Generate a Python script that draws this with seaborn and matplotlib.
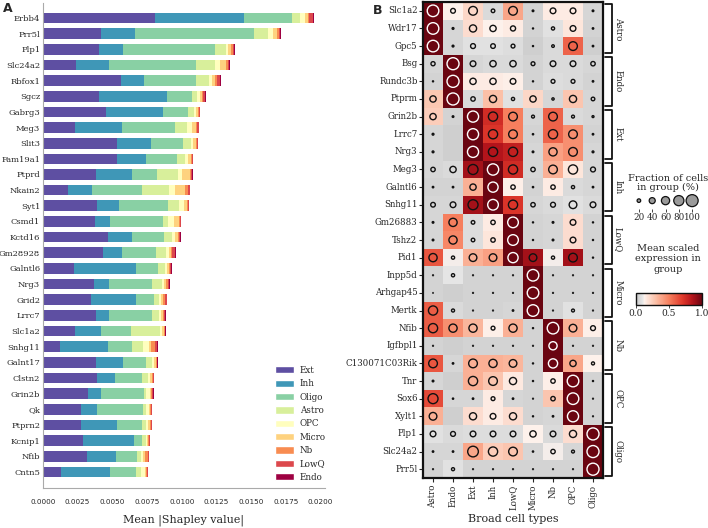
import numpy as np
import pandas as pd
import seaborn as sns
import matplotlib.pyplot as plt
import matplotlib.transforms as mtransforms
from matplotlib.colors import LinearSegmentedColormap
from matplotlib.patches import Patch

sns.set_style("white")
plt.rcParams['font.family'] = ['DejaVu Serif']

# ----------------------------Panel A data--------------------
genes_a = ['Erbb4', 'Prr5l', 'Plp1', 'Slc24a2', 'Rbfox1', 'Sgcz', 'Gabrg3', 'Meg3',
           'Slit3', 'Fam19a1', 'Ptprd', 'Nkain2', 'Syt1', 'Csmd1', 'Kctd16', 'Gm28928',
           'Galntl6', 'Nrg3', 'Grid2', 'Lrrc7', 'Slc1a2', 'Snhg11', 'Galnt17', 'Clstn2',
           'Grin2b', 'Qk', 'Ptprn2', 'Kcnip1', 'Nfib', 'Cntn5']
types_a = ['Ext', 'Inh', 'Oligo', 'Astro', 'OPC', 'Micro', 'Nb', 'LowQ', 'Endo']

ext = [0.00807, 0.00418, 0.00404, 0.00238, 0.00560, 0.00404, 0.00451, 0.00234, 0.00536, 0.00531,
       0.00382, 0.00177, 0.00390, 0.00375, 0.00467, 0.00432, 0.00227, 0.00368, 0.00347, 0.00380,
       0.00231, 0.00120, 0.00380, 0.00390, 0.00323, 0.00276, 0.00274, 0.00288, 0.00319, 0.00127]
inh = [0.00642, 0.00248, 0.00175, 0.00236, 0.00168, 0.00489, 0.00413, 0.00338, 0.00243, 0.00212,
       0.00262, 0.00177, 0.00156, 0.00106, 0.00177, 0.00137, 0.00444, 0.00106, 0.00326, 0.00094,
       0.00186, 0.00347, 0.00194, 0.00127, 0.00094, 0.00111, 0.00257, 0.00368, 0.00210, 0.00354]
oligo = [0.00342, 0.00855, 0.00661, 0.00630, 0.00378, 0.00182, 0.00179, 0.00382, 0.00227, 0.00224,
         0.00175, 0.00356, 0.00356, 0.00382, 0.00231, 0.00246, 0.00161, 0.00312, 0.00127, 0.00312,
         0.00220, 0.00172, 0.00170, 0.00198, 0.00309, 0.00335, 0.00179, 0.00059, 0.00151, 0.00191]
astro = [0.00064, 0.00099, 0.00076, 0.00135, 0.00087, 0.00038, 0.00045, 0.00085, 0.00057, 0.00059,
         0.00151, 0.00196, 0.00076, 0.00038, 0.00052, 0.00073, 0.00047, 0.00071, 0.00033, 0.00050,
         0.00208, 0.00078, 0.00038, 0.00042, 0.00019, 0.00021, 0.00033, 0.00026, 0.00026, 0.00033]
opc = [0.00035, 0.00035, 0.00019, 0.00038, 0.00024, 0.00019, 0.00017, 0.00031, 0.00017, 0.00019,
       0.00028, 0.00045, 0.00035, 0.00040, 0.00024, 0.00021, 0.00014, 0.00014, 0.00017, 0.00012,
       0.00012, 0.00045, 0.00017, 0.00017, 0.00024, 0.00019, 0.00014, 0.00012, 0.00017, 0.00028]
micro = [0.00019, 0.00028, 0.00021, 0.00038, 0.00024, 0.00012, 0.00010, 0.00031, 0.00019, 0.00019,
         0.00064, 0.00073, 0.00021, 0.00038, 0.00019, 0.00010, 0.00012, 0.00014, 0.00012, 0.00017,
         0.00012, 0.00019, 0.00012, 0.00014, 0.00012, 0.00010, 0.00012, 0.00007, 0.00014, 0.00010]
nb = [0.00010, 0.00014, 0.00010, 0.00017, 0.00012, 0.00007, 0.00007, 0.00010, 0.00010, 0.00010,
      0.00007, 0.00021, 0.00012, 0.00007, 0.00012, 0.00014, 0.00010, 0.00014, 0.00014, 0.00010,
      0.00007, 0.00028, 0.00007, 0.00007, 0.00007, 0.00007, 0.00007, 0.00005, 0.00017, 0.00005]
lowq = [0.00024, 0.00014, 0.00012, 0.00010, 0.00019, 0.00017, 0.00010, 0.00010, 0.00005, 0.00007,
        0.00007, 0.00014, 0.00007, 0.00007, 0.00007, 0.00021, 0.00010, 0.00012, 0.00017, 0.00007,
        0.00005, 0.00014, 0.00007, 0.00002, 0.00007, 0.00005, 0.00007, 0.00007, 0.00010, 0.00010]
endo = [0.00007, 0.00005, 0.00003, 0.00002, 0.00007, 0.00003, 0.00002, 0.00002, 0.00002, 0.00002,
        0.00002, 0.00002, 0.00002, 0.00002, 0.00002, 0.00002, 0.00002, 0.00002, 0.00002, 0.00002,
        0.00002, 0.00005, 0.00002, 0.00002, 0.00002, 0.00002, 0.00002, 0.00002, 0.00002, 0.00002]

# ----------------------------Panel B data--------------------
genes_b = ['Slc1a2', 'Wdr17', 'Gpc5', 'Bsg', 'Rundc3b', 'Ptprm', 'Grin2b', 'Lrrc7', 'Nrg3',
           'Meg3', 'Galntl6', 'Snhg11', 'Gm26883', 'Tshz2', 'Pid1', 'Inpp5d', 'Arhgap45',
           'Mertk', 'Nfib', 'Igfbpl1', 'C130071C03Rik', 'Tnr', 'Sox6', 'Xylt1', 'Plp1',
           'Slc24a2', 'Prr5l']
types_b = ['Astro', 'Endo', 'Ext', 'Inh', 'LowQ', 'Micro', 'Nb', 'OPC', 'Oligo']
groups_b = ['Astro', 'Endo', 'Ext', 'Inh', 'LowQ', 'Micro', 'Nb', 'OPC', 'Oligo']

# mean scaled expression (rows = genes_b, cols = types_b)
expr = [
    [1.00, 0.13, 0.22, 0.06, 0.38, 0.04, 0.15, 0.15, 0.05],
    [1.00, 0.05, 0.20, 0.13, 0.15, 0.04, 0.08, 0.17, 0.04],
    [1.00, 0.05, 0.08, 0.08, 0.07, 0.03, 0.06, 0.58, 0.03],
    [0.05, 1.00, 0.05, 0.06, 0.06, 0.04, 0.06, 0.06, 0.05],
    [0.04, 1.00, 0.15, 0.15, 0.14, 0.04, 0.07, 0.06, 0.04],
    [0.27, 1.00, 0.06, 0.30, 0.08, 0.22, 0.05, 0.28, 0.05],
    [0.25, 0.04, 1.00, 0.75, 0.50, 0.05, 0.58, 0.06, 0.05],
    [0.05, 0.03, 1.00, 0.72, 0.50, 0.04, 0.58, 0.45, 0.04],
    [0.05, 0.03, 1.00, 0.85, 0.80, 0.05, 0.40, 0.45, 0.05],
    [0.05, 0.06, 0.88, 1.00, 0.75, 0.05, 0.35, 0.17, 0.05],
    [0.04, 0.04, 0.35, 1.00, 0.14, 0.04, 0.15, 0.06, 0.05],
    [0.05, 0.05, 0.88, 1.00, 0.72, 0.05, 0.06, 0.08, 0.06],
    [0.05, 0.50, 0.07, 0.15, 1.00, 0.04, 0.05, 0.20, 0.04],
    [0.05, 0.48, 0.07, 0.17, 1.00, 0.04, 0.05, 0.20, 0.04],
    [0.62, 0.12, 0.35, 0.40, 1.00, 0.88, 0.12, 0.88, 0.04],
    [0.04, 0.09, 0.04, 0.04, 0.04, 1.00, 0.04, 0.04, 0.04],
    [0.04, 0.03, 0.04, 0.04, 0.04, 1.00, 0.04, 0.04, 0.04],
    [0.60, 0.06, 0.04, 0.04, 0.05, 1.00, 0.04, 0.08, 0.04],
    [0.60, 0.45, 0.33, 0.14, 0.35, 0.04, 1.00, 0.35, 0.14],
    [0.04, 0.03, 0.04, 0.04, 0.04, 0.04, 1.00, 0.04, 0.04],
    [0.62, 0.05, 0.35, 0.35, 0.33, 0.04, 1.00, 0.38, 0.13],
    [0.05, 0.03, 0.35, 0.28, 0.16, 0.04, 0.14, 1.00, 0.04],
    [0.65, 0.05, 0.05, 0.15, 0.05, 0.04, 0.28, 1.00, 0.04],
    [0.35, 0.03, 0.20, 0.15, 0.20, 0.04, 0.05, 1.00, 0.04],
    [0.08, 0.06, 0.07, 0.07, 0.07, 0.13, 0.06, 0.20, 1.00],
    [0.05, 0.05, 0.38, 0.25, 0.28, 0.05, 0.12, 0.05, 1.00],
    [0.04, 0.08, 0.04, 0.04, 0.04, 0.04, 0.04, 0.04, 1.00],
]
# fraction of cells in group (%)
frac = [
    [95, 29, 65, 20, 65, 7, 37, 37, 7],
    [95, 8, 50, 42, 32, 4, 17, 37, 6],
    [95, 8, 30, 28, 22, 4, 13, 65, 6],
    [24, 100, 37, 42, 42, 22, 37, 37, 26],
    [4, 100, 42, 42, 37, 4, 22, 22, 6],
    [42, 100, 26, 50, 17, 42, 11, 50, 20],
    [42, 7, 90, 70, 65, 15, 65, 15, 9],
    [8, 0, 90, 70, 65, 5, 70, 65, 6],
    [8, 0, 90, 70, 70, 7, 60, 65, 8],
    [26, 42, 78, 92, 70, 26, 65, 70, 30],
    [6, 6, 42, 80, 26, 5, 26, 17, 6],
    [28, 37, 78, 85, 70, 26, 30, 55, 37],
    [7, 60, 20, 26, 85, 4, 7, 37, 4],
    [7, 60, 20, 26, 85, 4, 7, 37, 4],
    [60, 17, 55, 55, 80, 55, 17, 65, 4],
    [3, 17, 3, 3, 3, 95, 3, 3, 3],
    [2, 0, 3, 3, 3, 95, 3, 3, 3],
    [70, 16, 3, 3, 6, 95, 3, 15, 3],
    [70, 60, 60, 22, 60, 4, 95, 55, 30],
    [3, 0, 3, 3, 3, 3, 60, 3, 3],
    [65, 6, 65, 60, 55, 4, 70, 42, 16],
    [7, 0, 70, 65, 50, 4, 26, 95, 4],
    [78, 5, 6, 22, 6, 3, 26, 95, 3],
    [55, 0, 50, 37, 50, 4, 6, 90, 3],
    [37, 30, 37, 37, 37, 42, 37, 50, 100],
    [6, 6, 85, 70, 65, 5, 26, 15, 100],
    [3, 16, 3, 3, 3, 3, 3, 3, 100],
]
size_ticks = [20, 40, 60, 80, 100]

# ----------------------------Figure--------------------
fig = plt.figure(figsize=(7.08, 5.28), dpi=100)

# ------------------Panel A: stacked bars---------------------
axa = fig.add_axes([0.0607, 0.0758, 0.398, 0.9186])
df_a = pd.DataFrame({'Ext': ext, 'Inh': inh, 'Oligo': oligo, 'Astro': astro, 'OPC': opc,
                     'Micro': micro, 'Nb': nb, 'LowQ': lowq, 'Endo': endo}, index=genes_a)
colors_a = plt.get_cmap('Spectral_r')(np.linspace(0, 1, len(types_a)))
ypos = np.arange(len(genes_a))
left = np.zeros(len(genes_a))
for t, c in zip(types_a, colors_a):
    axa.barh(ypos, df_a[t], left=left, height=0.68, color=c, edgecolor='none')
    left += df_a[t].values
axa.set_ylim(30.03, -0.96)
axa.set_xlim(0, 0.0203)
axa.set_yticks(ypos)
axa.set_yticklabels(genes_a, fontsize=6.0)
xt = np.arange(0, 0.0201, 0.0025)
axa.set_xticks(xt)
axa.set_xticklabels(['%.4f' % v for v in xt], fontsize=5.2, family='DejaVu Sans')
axa.tick_params(axis='y', length=0, pad=2)
axa.tick_params(axis='x', length=0, pad=8)
axa.set_xlabel('Mean |Shapley value|', fontsize=8, labelpad=7)
sns.despine(ax=axa, top=True, right=True)
for s in ['left', 'bottom']:
    axa.spines[s].set_color('#aaaaaa')
    axa.spines[s].set_linewidth(0.8)
handles = [Patch(facecolor=c, label=t) for t, c in zip(types_a, colors_a)]
axa.legend(handles=handles, loc='lower right', bbox_to_anchor=(1.025, 0.0), frameon=False,
           fontsize=6.3, handlelength=2.2, handleheight=0.9, labelspacing=0.5,
           handletextpad=0.6, borderaxespad=0.3)

# ------------------Panel B: dotplot---------------------
cmap = LinearSegmentedColormap.from_list('greyreds', [
    (0.0, '#c6c6c6'), (0.1, '#e8e8e8'), (0.13, '#fdf1eb'), (0.3, '#fbbfa6'),
    (0.5, '#f6805f'), (0.7, '#e0392b'), (0.85, '#b3141b'), (1.0, '#6a0511')])

axb = fig.add_axes([0.5975, 0.0947, 0.2542, 0.9015])
expr_df = pd.DataFrame(expr, index=genes_b, columns=types_b)
frac_df = pd.DataFrame(frac, index=genes_b, columns=types_b)
sns.heatmap(expr_df, cmap=cmap, vmin=0, vmax=1, cbar=False, ax=axb, linewidths=0)

smax = 75
long_df = expr_df.stack().reset_index()
long_df.columns = ['gene', 'ctype', 'expr']
long_df['frac'] = frac_df.stack().values
long_df['x'] = long_df['ctype'].map({t: i + 0.5 for i, t in enumerate(types_b)})
long_df['y'] = long_df['gene'].map({g: i + 0.5 for i, g in enumerate(genes_b)})
long_df = long_df[long_df['frac'] > 0]
sizes = (long_df['frac'] / 100.0) ** 1.5 * smax
edge = np.where(long_df['expr'] >= 0.95, 'white', '#111111')
axb.scatter(long_df['x'], long_df['y'], s=sizes, facecolors='none', edgecolors=edge,
            linewidths=1.0, zorder=3)

axb.set_xticks(np.arange(len(types_b)) + 0.5)
axb.set_xticklabels(types_b, rotation=90, fontsize=6.2)
axb.set_yticks(np.arange(len(genes_b)) + 0.5)
axb.set_yticklabels(genes_b, rotation=0, fontsize=6.2)
axb.tick_params(axis='y', length=3, width=0.8, pad=1, left=True)
axb.tick_params(axis='x', length=3, width=0.8, pad=2, bottom=True)
axb.set_xlabel('Broad cell types', fontsize=8, labelpad=3)
axb.set_ylabel('')
for s in axb.spines.values():
    s.set_visible(True)
    s.set_color('#111111')
    s.set_linewidth(1.6)

# group brackets
trans = mtransforms.blended_transform_factory(axb.transAxes, axb.transData)
for k, grp in enumerate(groups_b):
    y0 = 3 * k + 0.12
    y1 = 3 * k + 3 - 0.12
    axb.plot([1.012, 1.05, 1.05, 1.012], [y0, y0, y1, y1], transform=trans,
             color='#111111', lw=1.3, clip_on=False)
    axb.text(1.085, 3 * k + 1.5, grp, rotation=270, va='center', ha='center',
             transform=trans, fontsize=6.2)

# size legend
fig.text(0.944, 0.653, 'Fraction of cells\nin group (%)', ha='center', va='center',
         fontsize=7, linespacing=0.95)
axs = fig.add_axes([0.893, 0.605, 0.094, 0.03])
axs.scatter(np.arange(len(size_ticks)), np.zeros(len(size_ticks)),
            s=(np.array(size_ticks) / 100.0) ** 1.5 * smax, facecolor='#9a9a9a',
            edgecolor='#111111', linewidths=0.9)
axs.set_xlim(-0.5, len(size_ticks) - 0.5)
axs.set_ylim(-1, 1)
axs.set_xticks(np.arange(len(size_ticks)))
axs.set_xticklabels([str(v) for v in size_ticks], fontsize=6.3)
axs.set_yticks([])
axs.tick_params(axis='x', length=2, width=0.6, pad=1, bottom=True)
for s in axs.spines.values():
    s.set_visible(False)

# colour bar
fig.text(0.944, 0.51, 'Mean scaled\nexpression in\ngroup', ha='center', va='center',
         fontsize=7, linespacing=1.2)
axc = fig.add_axes([0.898, 0.422, 0.094, 0.024])
sm = plt.cm.ScalarMappable(cmap=cmap, norm=plt.Normalize(0, 1))
cb = fig.colorbar(sm, cax=axc, orientation='horizontal', ticks=[0, 0.5, 1.0])
cb.ax.set_xticklabels(['0.0', '0.5', '1.0'], fontsize=6.5)
cb.ax.tick_params(length=2, width=0.6, pad=1)
cb.outline.set_linewidth(1.0)
cb.outline.set_edgecolor('#111111')

# panel letters
fig.text(0.004, 0.978, 'A', fontsize=9, fontweight='bold', family='DejaVu Sans')
fig.text(0.526, 0.974, 'B', fontsize=9, fontweight='bold', family='DejaVu Sans')

fig.savefig('out.png', dpi=100)
